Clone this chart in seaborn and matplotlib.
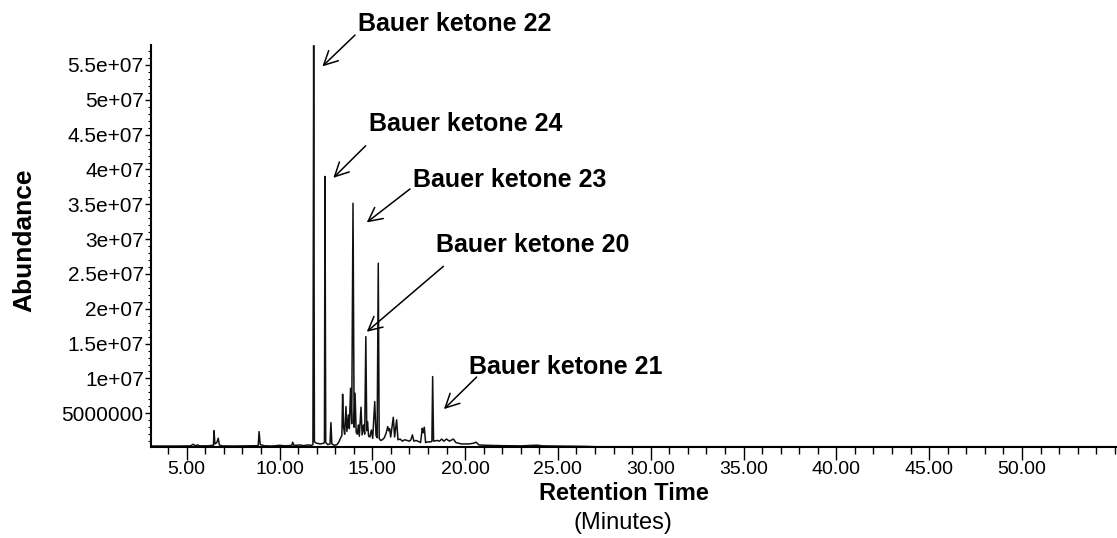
import numpy as np
import pandas as pd
import matplotlib
matplotlib.use("Agg")
import matplotlib.pyplot as plt
from matplotlib.ticker import FixedLocator, MultipleLocator
import seaborn as sns

# Total ion chromatogram trace: retention time (min) and abundance (millions of counts)
rt_early = [3.0, 4.5, 5.2, 5.35, 5.45, 5.6, 5.7, 6.2, 6.35, 6.44, 6.47, 6.52, 6.62, 6.70,
            6.76, 6.9, 7.5, 8.2, 8.85, 8.90, 8.96, 9.2, 9.6, 10.0, 10.3, 10.66, 10.71,
            10.78, 11.1, 11.3, 11.5, 11.72]
ab_early = [0.30, 0.30, 0.32, 0.55, 0.35, 0.45, 0.32, 0.33, 0.40, 0.35, 2.50, 0.60, 0.80, 1.42,
            0.45, 0.32, 0.30, 0.32, 0.35, 2.37, 0.50, 0.33, 0.30, 0.40, 0.33, 0.38, 0.85,
            0.38, 0.45, 0.35, 0.45, 0.40]

rt_main = [11.80, 11.84, 11.88, 12.0, 12.2, 12.38, 12.42, 12.45, 12.49, 12.6, 12.72, 12.77,
           12.82, 12.95, 13.1, 13.2, 13.3, 13.36, 13.40, 13.45, 13.51, 13.58, 13.63, 13.71,
           13.76, 13.83, 13.89, 13.96, 14.02, 14.07, 14.13, 14.19, 14.25, 14.30, 14.39, 14.45,
           14.53, 14.59, 14.65, 14.70, 14.74, 14.80, 14.87, 14.95, 15.02, 15.13, 15.20, 15.26,
           15.32, 15.37, 15.45, 15.54, 15.65, 15.75, 15.83, 15.88, 15.93, 15.99, 16.13, 16.20,
           16.31, 16.38, 16.50, 16.62, 16.75, 16.88, 17.0, 17.08, 17.16, 17.24, 17.35, 17.45,
           17.6, 17.69, 17.74, 17.80, 17.87, 18.0, 18.15, 18.21, 18.25, 18.30, 18.5, 18.62,
           18.74, 18.85, 19.0, 19.15, 19.37, 19.5]
ab_main = [0.50, 57.8, 0.90, 0.70, 0.60, 0.70, 0.80, 39.0, 0.80, 0.50, 0.60, 3.66,
           0.60, 0.40, 0.50, 0.90, 1.50, 1.80, 7.74, 3.00, 2.00, 5.96, 2.40, 4.77,
           2.80, 8.60, 3.50, 35.15, 3.00, 7.88, 2.30, 2.00, 3.33, 1.70, 5.87, 1.90,
           3.33, 2.00, 16.0, 2.50, 3.80, 1.70, 1.60, 2.60, 1.40, 6.68, 1.80, 1.50,
           26.55, 1.40, 1.10, 1.20, 1.50, 2.20, 3.09, 2.50, 2.80, 1.60, 4.43, 1.60,
           4.05, 1.20, 1.30, 1.00, 1.20, 1.10, 1.00, 1.20, 1.90, 1.00, 1.10, 1.00,
           0.80, 2.85, 2.20, 3.00, 0.80, 0.90, 0.90, 1.00, 10.27, 1.00, 1.10, 1.00,
           1.30, 1.00, 1.30, 1.00, 1.30, 0.80]

rt_late = [19.8, 20.2, 20.45, 20.59, 20.75, 21.2, 22.0, 23.0, 23.86, 24.2, 25.0, 26.0,
           26.5, 27.0, 30.0, 55.0]
ab_late = [0.60, 0.60, 0.70, 0.85, 0.45, 0.40, 0.35, 0.32, 0.42, 0.32, 0.30, 0.28,
           0.25, 0.20, 0.20, 0.20]

# Peak annotations (label position, arrow tail, arrow head), abundance in millions
peak_labels = ["Bauer ketone 22", "Bauer ketone 24", "Bauer ketone 23",
               "Bauer ketone 20", "Bauer ketone 21"]
label_rt = [14.23, 14.82, 17.21, 18.43, 20.23]
label_ab = [60.9, 46.5, 38.5, 29.2, 11.7]
tail_rt = [14.07, 14.64, 17.03, 18.83, 20.62]
tail_ab = [59.3, 43.4, 37.2, 26.1, 10.2]
head_rt = [12.31, 12.90, 14.70, 14.70, 18.86]
head_ab = [54.8, 38.8, 32.4, 16.7, 5.6]

# Axis ticks
x_major = [5, 10, 15, 20, 25, 30, 35, 40, 45, 50]
y_major = [5e6, 1e7, 1.5e7, 2e7, 2.5e7, 3e7, 3.5e7, 4e7, 4.5e7, 5e7, 5.5e7]
y_tick_labels = ["5000000", "1e+07", "1.5e+07", "2e+07", "2.5e+07", "3e+07",
                 "3.5e+07", "4e+07", "4.5e+07", "5e+07", "5.5e+07"]

sns.set_style("ticks")
plt.rcParams["font.family"] = ["Liberation Sans", "DejaVu Sans"]
plt.rcParams["text.color"] = "black"
plt.rcParams["axes.labelcolor"] = "black"

W, H = 1117, 538
fig = plt.figure(figsize=(W / 100, H / 100), dpi=100)
ax = fig.add_axes([150.7 / W, 1 - 447 / H, 1 - 150.7 / W, (447 - 45) / H])

trace = pd.DataFrame({
    "rt": rt_early + rt_main + rt_late,
    "abundance": np.array(ab_early + ab_main + ab_late) * 1e6,
})
sns.lineplot(data=trace, x="rt", y="abundance", sort=False, estimator=None,
             color="#111111", linewidth=1.1, ax=ax)

ax.set_xlim(3.06, 55.12)
ax.set_ylim(0.16e6, 57.87e6)

for side in ("top", "right"):
    ax.spines[side].set_visible(False)
for side in ("left", "bottom"):
    ax.spines[side].set_linewidth(1.5)
    ax.spines[side].set_color("black")

ax.xaxis.set_major_locator(FixedLocator(x_major))
ax.set_xticklabels([f"{v:.2f}" for v in x_major])
ax.xaxis.set_minor_locator(MultipleLocator(1))
ax.yaxis.set_major_locator(FixedLocator(y_major))
ax.set_yticklabels(y_tick_labels)
ax.yaxis.set_minor_locator(MultipleLocator(1e6))

ax.tick_params(axis="x", which="major", direction="out", length=9, width=1.0,
               color="black", labelsize=14, pad=1.4, labelcolor="black")
ax.tick_params(axis="x", which="minor", direction="out", length=5, width=1.0, color="black")
ax.tick_params(axis="y", which="major", direction="out", length=4, width=1.0,
               color="black", labelsize=15, pad=1, labelcolor="black")
ax.tick_params(axis="y", which="minor", direction="out", length=2, width=0.8, color="black")

ax.set_xlabel("")
ax.set_ylabel("")
fig.text(624 / W, 1 - 493.5 / H, "Retention Time", ha="center", va="center",
         fontsize=17, fontweight="bold", color="black")
fig.text(623 / W, 1 - 522.5 / H, "(Minutes)", ha="center", va="center", fontsize=17,
         color="black")
fig.text(24 / W, 1 - 240 / H, "Abundance", ha="center", va="center", rotation=90,
         fontsize=19, fontweight="bold", color="black")

for txt, lx, ly, tx, ty, hx, hy in zip(peak_labels, label_rt, label_ab, tail_rt, tail_ab,
                                        head_rt, head_ab):
    ax.text(lx, ly * 1e6, txt, ha="left", va="center", fontsize=18, fontweight="bold",
            color="black")
    ax.annotate("", xy=(hx, hy * 1e6), xytext=(tx, ty * 1e6), annotation_clip=False,
                arrowprops=dict(arrowstyle="->,head_length=0.55,head_width=0.28",
                                mutation_scale=18, color="black", lw=1.1,
                                shrinkA=0, shrinkB=0))

fig.savefig("out.png", dpi=100)
